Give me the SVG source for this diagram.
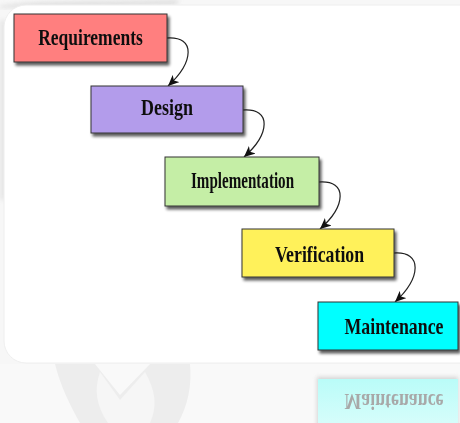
<svg xmlns="http://www.w3.org/2000/svg" width="460" height="423" viewBox="0 0 460 423">
  <defs>
    <filter id="shadow" x="-10%" y="-20%" width="130%" height="160%">
      <feGaussianBlur in="SourceAlpha" stdDeviation="1.5"/>
      <feOffset dx="2" dy="3" result="b"/>
      <feComponentTransfer><feFuncA type="linear" slope="0.65"/></feComponentTransfer>
      <feMerge><feMergeNode/><feMergeNode in="SourceGraphic"/></feMerge>
    </filter>
    <filter id="soft" x="-20%" y="-20%" width="140%" height="140%">
      <feGaussianBlur stdDeviation="2"/>
    </filter>
    <marker id="arrow" markerWidth="12" markerHeight="10" refX="11" refY="5" orient="auto" markerUnits="userSpaceOnUse">
      <path d="M0,0 L11,5 L0,10 L3,5 Z" fill="#111"/>
    </marker>
    <linearGradient id="refl" x1="0" y1="0" x2="0" y2="1">
      <stop offset="0" stop-color="#aefcf8"/>
      <stop offset="1" stop-color="#d2fdfb"/>
    </linearGradient>
  </defs>
  <style>
    .box { stroke: #333; stroke-width: 1; }
    .label { font-family: "Liberation Serif", "Times New Roman", serif; font-weight: bold; font-size: 23px; fill: #111; text-anchor: middle; }
    .edge { fill: none; stroke: #222; stroke-width: 1.2; marker-end: url(#arrow); }
  </style>

  <!-- background -->
  <rect x="0" y="0" width="460" height="423" fill="#f7f7f7"/>
  <g id="watermark" fill="#d9d9d9" opacity="0.8">
    <path d="M0,6 C40,0 80,2 120,1 L180,0 L175,5 L0,8 Z" filter="url(#soft)"/>
    <path d="M0,20 L6,20 L6,200 L0,200 Z" fill="#e2e2e2" filter="url(#soft)"/>
    <path d="M55,364 L95,364 L120,395 L150,364 L190,364 C192,385 188,405 178,423 L80,423 C70,405 60,385 55,364 Z"/>
    <path d="M100,372 L120,400 L145,372 C155,390 158,405 150,423 L108,423 C96,405 94,390 100,372 Z" fill="#eeeeee"/>
  </g>
  <rect x="0" y="364" width="460" height="59" fill="#fcfcfc" opacity="0.5"/>

  <!-- panel -->
  <rect x="4" y="5" width="480" height="358" rx="22" ry="22" fill="#ffffff" stroke="#eeeeee" stroke-width="1"/>

  <!-- connectors -->
  <g id="connectors">
    <path class="edge" d="M167,38 C196,36 194,62 168,86"/>
    <path class="edge" d="M243,110 C272,108 270,134 244,157"/>
    <path class="edge" d="M319,182 C348,180 346,206 320,229"/>
    <path class="edge" d="M394,253 C423,251 421,278 395,302"/>
  </g>

  <g id="requirements" filter="url(#shadow)">
    <rect class="box" x="14" y="14" width="153" height="48" fill="#ff7f7f"/>
    <text class="label" transform="translate(90.5,45) scale(0.761,1)">Requirements</text>
  </g>
  <g id="design" filter="url(#shadow)">
    <rect class="box" x="91" y="86" width="152" height="47" fill="#b39ceb"/>
    <text class="label" transform="translate(167,115) scale(0.783,1)">Design</text>
  </g>
  <g id="implementation" filter="url(#shadow)">
    <rect class="box" x="165" y="157" width="154" height="49" fill="#c5eea6"/>
    <text class="label" transform="translate(242.5,188) scale(0.656,1)">Implementation</text>
  </g>
  <g id="verification" filter="url(#shadow)">
    <rect class="box" x="242" y="229" width="152" height="48" fill="#fff15a"/>
    <text class="label" transform="translate(319.5,262) scale(0.774,1)">Verification</text>
  </g>
  <g id="maintenance" filter="url(#shadow)">
    <rect class="box" x="318" y="302" width="140" height="48" fill="#00ffff"/>
    <text class="label" transform="translate(394,334) scale(0.775,1)">Maintenance</text>
  </g>

  <!-- reflection -->
  <g id="maintenance-reflection" opacity="0.85">
    <rect x="317" y="377" width="141" height="50" fill="#cccccc" filter="url(#soft)"/>
    <rect x="318" y="379" width="140" height="48" fill="url(#refl)"/>
    <text class="label" transform="translate(394,394) scale(0.775,-1)" style="fill:#9a9a9a">Maintenance</text>
  </g>
</svg>
